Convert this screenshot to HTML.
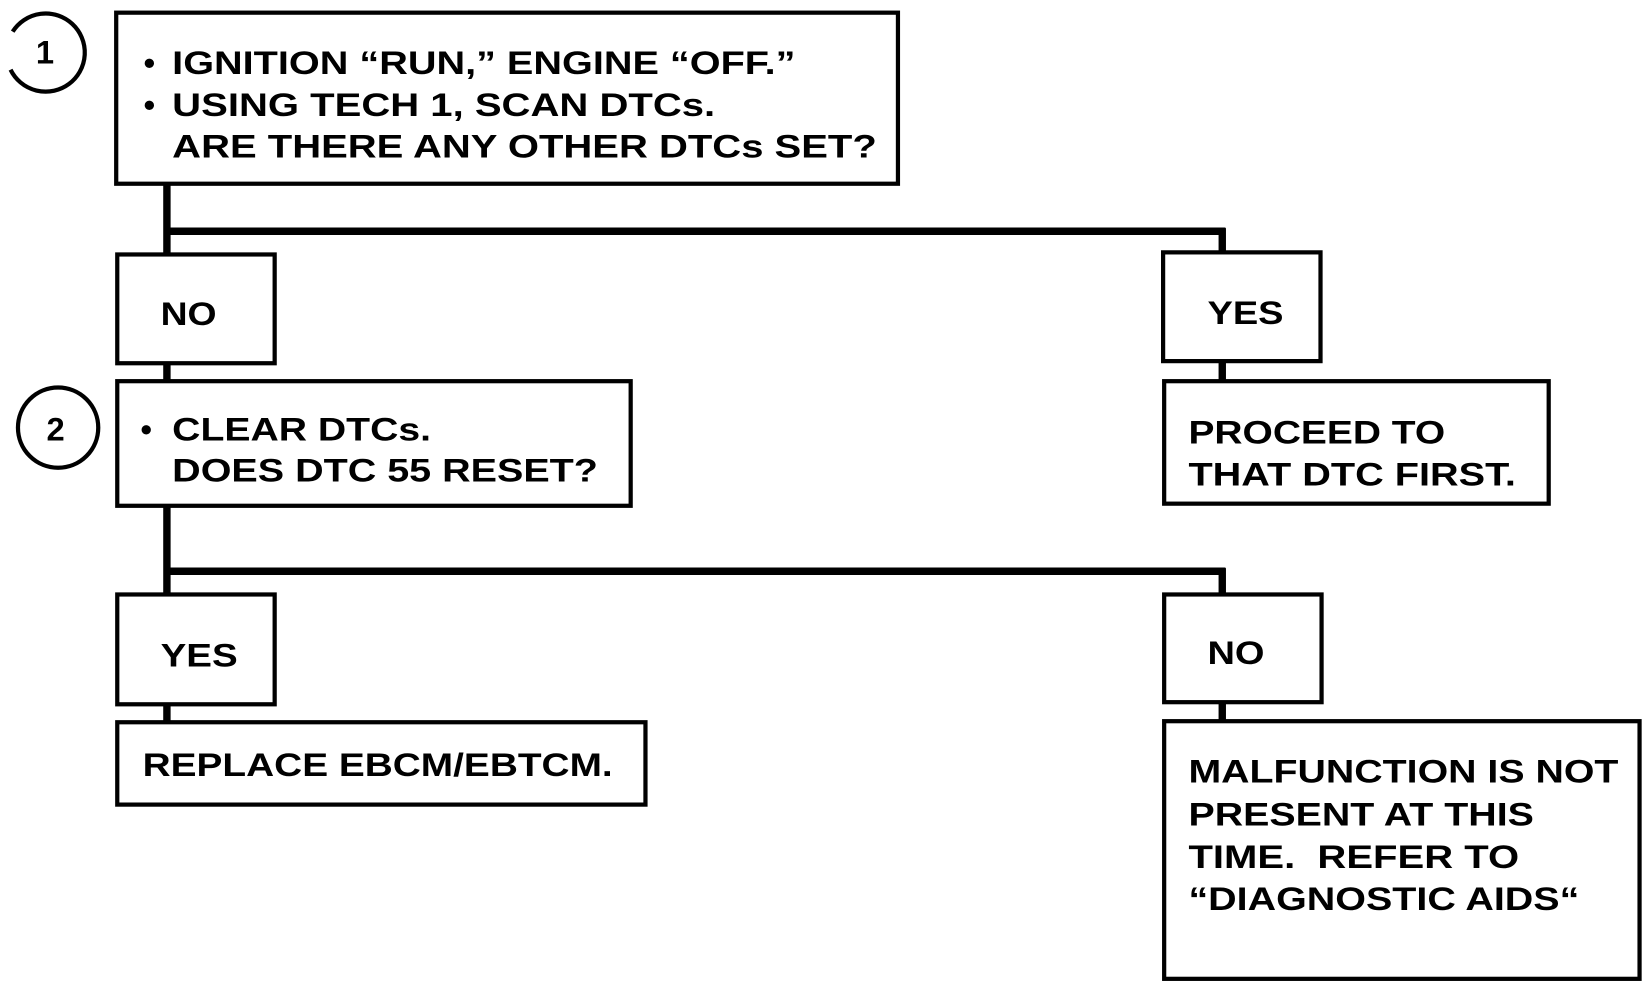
<!DOCTYPE html>
<html><head><meta charset="utf-8"><style>
html,body{margin:0;padding:0;background:#fff;}
svg{display:block;}
text{font-family:"Liberation Sans",Arial,sans-serif;font-weight:bold;font-size:31px;fill:#000;}
</style></head><body>
<svg width="1648" height="982" viewBox="0 0 1560 930" preserveAspectRatio="none" xmlns="http://www.w3.org/2000/svg">
<g fill="none" stroke="#000" stroke-width="4">
<rect x="110" y="12" width="740" height="162"/>
<path d="M12,30 A37,37 0 1 1 10,66" stroke-width="4"/>
<circle cx="55" cy="405" r="38"/>
<rect x="111" y="241" width="149" height="103"/>
<rect x="1101" y="239" width="149" height="103"/>
<rect x="111" y="361" width="486" height="118"/>
<rect x="1102" y="361" width="364" height="116"/>
<rect x="111" y="563" width="149" height="104"/>
<rect x="1102" y="563" width="149" height="102"/>
<rect x="111" y="684" width="500" height="78"/>
<rect x="1102" y="683" width="450" height="244"/>
</g>
<g stroke="#000" stroke-width="7" fill="none">
<path d="M158,175 V240 M155,219 H1160 M1157,216 V238"/>
<path d="M158,345 V360 M1157,343 V360"/>
<path d="M158,480 V562 M155,541 H1160 M1157,538 V562"/>
<path d="M158,668 V683 M1157,666 V682"/>
</g>
<text x="34" y="60" font-size="30">1</text>
<text x="44" y="417" font-size="30">2</text>
<text x="136" y="70">•</text>
<text x="163" y="70" textLength="590" lengthAdjust="spacingAndGlyphs">IGNITION “RUN,” ENGINE “OFF.”</text>
<text x="136" y="110">•</text>
<text x="163" y="110" textLength="514" lengthAdjust="spacingAndGlyphs">USING TECH 1, SCAN DTCs.</text>
<text x="163" y="149" textLength="667" lengthAdjust="spacingAndGlyphs">ARE THERE ANY OTHER DTCs SET?</text>
<text x="152" y="308" textLength="53" lengthAdjust="spacingAndGlyphs">NO</text>
<text x="1143" y="307" textLength="72" lengthAdjust="spacingAndGlyphs">YES</text>
<text x="133" y="417">•</text>
<text x="163" y="417" textLength="245" lengthAdjust="spacingAndGlyphs">CLEAR DTCs.</text>
<text x="163" y="456" textLength="403" lengthAdjust="spacingAndGlyphs">DOES DTC 55 RESET?</text>
<text x="1125" y="420" textLength="243" lengthAdjust="spacingAndGlyphs">PROCEED TO</text>
<text x="1125" y="460" textLength="310" lengthAdjust="spacingAndGlyphs">THAT DTC FIRST.</text>
<text x="152" y="631" textLength="73" lengthAdjust="spacingAndGlyphs">YES</text>
<text x="1143" y="629" textLength="54" lengthAdjust="spacingAndGlyphs">NO</text>
<text x="135" y="735" textLength="445" lengthAdjust="spacingAndGlyphs">REPLACE EBCM/EBTCM.</text>
<text x="1125" y="741" textLength="407" lengthAdjust="spacingAndGlyphs">MALFUNCTION IS NOT</text>
<text x="1125" y="782" textLength="327" lengthAdjust="spacingAndGlyphs">PRESENT AT THIS</text>
<text x="1125" y="822" textLength="313" lengthAdjust="spacingAndGlyphs" xml:space="preserve">TIME.  REFER TO</text>
<text x="1125" y="862" textLength="370" lengthAdjust="spacingAndGlyphs">“DIAGNOSTIC AIDS“</text>
</svg>
</body></html>
